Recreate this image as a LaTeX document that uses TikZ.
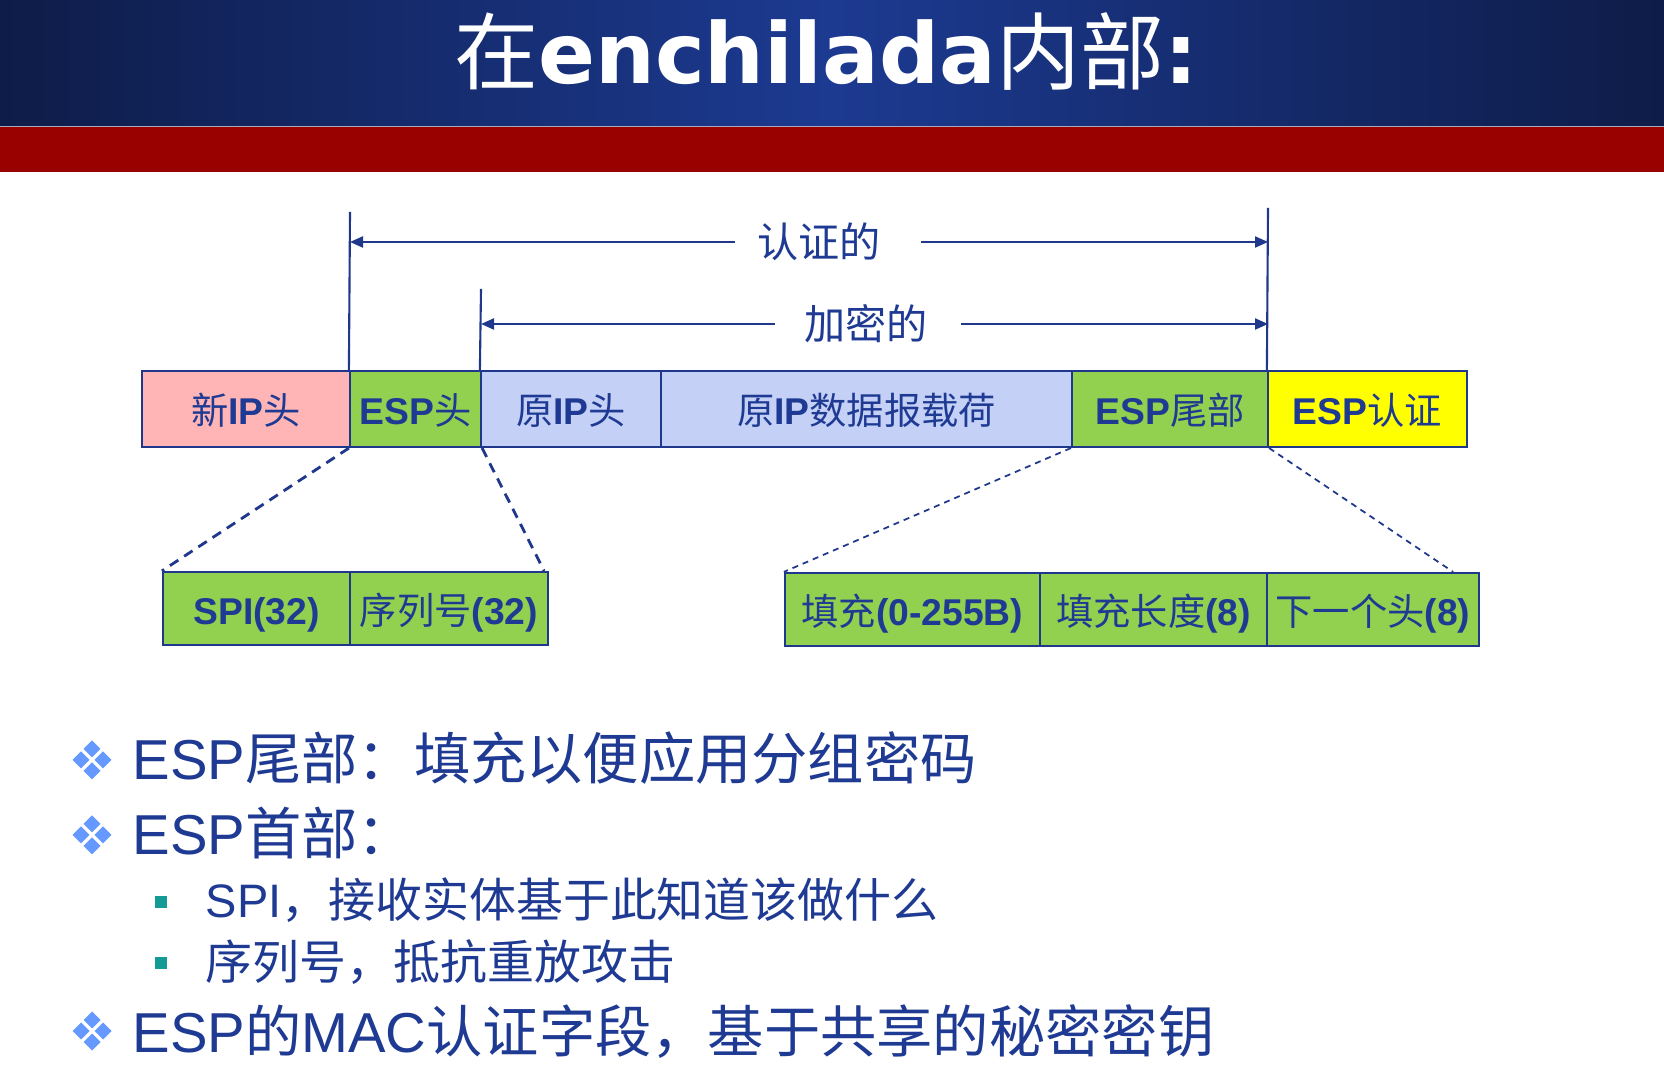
\documentclass[tikz,border=0pt]{standalone}
\usepackage{fontspec}
\setmainfont{Liberation Sans}
\newfontfamily\cjk{Noto Sans CJK SC}
\newfontfamily\titlesans{DejaVu Sans}
\usetikzlibrary{arrows.meta,calc}

\definecolor{ink}{RGB}{31,58,147}
\definecolor{rim}{RGB}{32,56,140}
\definecolor{navyedge}{RGB}{14,28,72}
\definecolor{navymid}{RGB}{28,58,145}
\definecolor{bandred}{RGB}{153,0,0}
\definecolor{seam}{RGB}{170,170,190}
\definecolor{pinkf}{RGB}{255,181,181}
\definecolor{greenf}{RGB}{146,208,80}
\definecolor{bluef}{RGB}{196,208,245}
\definecolor{yellowf}{RGB}{255,255,0}
\definecolor{gem}{RGB}{102,153,255}
\definecolor{squarec}{RGB}{20,155,150}

\newcommand\zh[1]{{\cjk #1}}

\tikzset{
  field/.style={draw=rim, line width=0.6pt, minimum height=0.76cm, inner sep=0pt,
    text height=0.34cm, text depth=0.02cm,
    text=ink, font=\fontsize{10.6pt}{12pt}\selectfont},
  subfield/.style={field, fill=greenf, minimum height=0.73cm},
  guide/.style={draw=rim, line width=0.6pt},
  spanarrow/.style={draw=rim, line width=0.6pt, -{Triangle[length=1.3mm,width=1.1mm]}},
  spanlabel/.style={text=ink, inner sep=0pt, font=\fontsize{11.7pt}{13pt}\selectfont\cjk},
  zoomA/.style={draw=rim, line width=0.8pt, dash pattern=on 1mm off 0.7mm},
  zoomB/.style={draw=rim, line width=0.5pt, dash pattern=on 0.6mm off 0.5mm},
  bul/.style={text=ink, inner sep=0pt, anchor=base west, font=\fontsize{16pt}{18pt}\selectfont},
  subbul/.style={bul, font=\fontsize{13.35pt}{16pt}\selectfont},
  gembullet/.pic={
    \foreach \dx/\dy in {-11/0,11/0,0/-11,0/11}
      \fill[gem] (\dx-8.5,\dy) -- (\dx,\dy-8.5) -- (\dx+8.5,\dy) -- (\dx,\dy+8.5) -- cycle;
  }
}

\begin{document}
\begin{tikzpicture}[x=0.01cm, y=-0.01cm]
  \useasboundingbox (0,0) rectangle (1664,1074);
  \fill[white] (0,0) rectangle (1664,1074);

  % title band
  \shade[left color=navyedge, right color=navyedge, middle color=navymid] (0,0) rectangle (1664,126);
  \fill[bandred] (0,127) rectangle (1664,172);
  \draw[seam, line width=0.5pt] (0,126.5) -- (1664,126.5);
  \node[text=white, inner sep=0pt, anchor=base, font=\fontsize{23.9pt}{28pt}\selectfont] (title) at (826,84)
    {\zh{在}{\titlesans\bfseries enchilada}\zh{内部}{\titlesans\bfseries :}};

  % ESP packet fields
  \node[field, fill=pinkf,   minimum width=2.08cm] (newip)    at (246,409)    {\zh{新}\textbf{IP}\zh{头}};
  \node[field, fill=greenf,  minimum width=1.31cm] (esph)     at (415.5,409)  {\textbf{ESP}\zh{头}};
  \node[field, fill=bluef,   minimum width=1.80cm] (origip)   at (571,409)    {\zh{原}\textbf{IP}\zh{头}};
  \node[field, fill=bluef,   minimum width=4.11cm] (payload)  at (866.5,409)  {\zh{原}\textbf{IP}\zh{数据报载荷}};
  \node[field, fill=greenf,  minimum width=1.96cm] (esptrail) at (1170,409)   {\textbf{ESP}\zh{尾部}};
  \node[field, fill=yellowf, minimum width=1.99cm] (espauth)  at (1367.5,409) {\textbf{ESP}\zh{认证}};

  % header detail
  \node[subfield, minimum width=1.87cm] (spi) at (256.5,608.5) {\textbf{SPI(32)}};
  \node[subfield, minimum width=1.98cm] (seq) at (449,608.5)   {\zh{序列号}\textbf{(32)}};

  % trailer detail
  \node[subfield, minimum width=2.55cm] (pad)    at (912.5,609.5)  {\zh{填充}\textbf{(0-255B)}};
  \node[subfield, minimum width=2.27cm] (padlen) at (1153.5,609.5) {\zh{填充长度}\textbf{(8)}};
  \node[subfield, minimum width=2.12cm] (nexth)  at (1373,609.5)   {\zh{下一个头}\textbf{(8)}};

  % coverage markers
  \coordinate (authtop) at (350,212);
  \coordinate (enctop)  at (481,289);
  \coordinate (endtop)  at (1268,208);
  \draw[guide] (esph.north west) -- (authtop);
  \draw[guide] (origip.north west) -- (enctop);
  \draw[guide] (espauth.north west) -- (endtop);

  \node[spanlabel] (authlbl) at (819,242) {认证的};
  \coordinate (authL) at (350,242);
  \coordinate (authR) at (1268,242);
  \draw[spanarrow, shorten <=0.22cm] (authlbl.west) -- (authL);
  \draw[spanarrow, shorten <=0.40cm] (authlbl.east) -- (authR);

  \node[spanlabel] (enclbl) at (866,324) {加密的};
  \coordinate (encL) at (481,324);
  \coordinate (encR) at (1268,324);
  \draw[spanarrow, shorten <=0.29cm] (enclbl.west) -- (encL);
  \draw[spanarrow, shorten <=0.33cm] (enclbl.east) -- (encR);

  % expansion lines
  \draw[zoomA] (esph.south west) -- (spi.north west);
  \draw[zoomA] (esph.south east) -- ($(seq.north east)+(-5,0)$);
  \draw[zoomB] (esptrail.south west) -- (pad.north west);
  \draw[zoomB] (esptrail.south east) -- ($(nexth.north east)+(-27,0)$);

  % bullet list
  \pic at (92,760) {gembullet};
  \node[bul] (b1) at (132,780) {ESP\zh{尾部：填充以便应用分组密码}};
  \pic at (92,835) {gembullet};
  \node[bul] (b2) at (132,855) {ESP\zh{首部：}};
  \fill[squarec] (155,896) rectangle (167,908);
  \node[subbul] (b3) at (205,918) {SPI\zh{，接收实体基于此知道该做什么}};
  \fill[squarec] (155,957) rectangle (167,969);
  \node[subbul] (b4) at (205,980) {\zh{序列号，抵抗重放攻击}};
  \pic at (92,1031) {gembullet};
  \node[bul] (b5) at (132,1052) {ESP\zh{的}MAC\zh{认证字段，基于共享的秘密密钥}};
\end{tikzpicture}
\end{document}
